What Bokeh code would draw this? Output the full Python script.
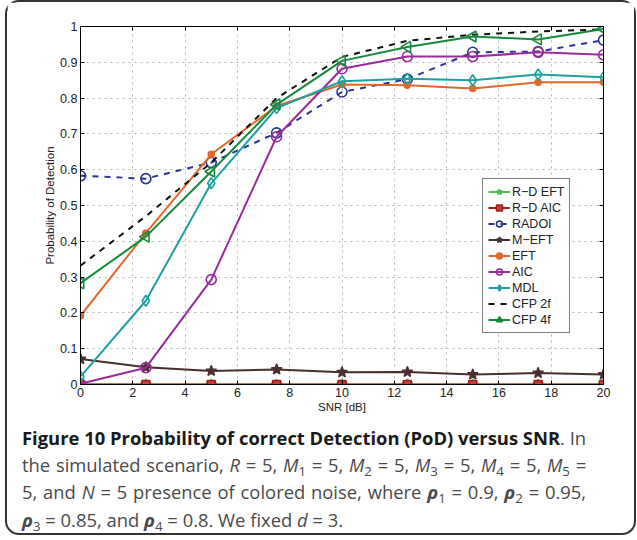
from bokeh.plotting import figure
from bokeh.models import FixedTicker, LinearAxis, Legend, LegendItem, Div, Range1d
from bokeh.layouts import column
from bokeh.embed import file_html
from bokeh.resources import INLINE
import math

# ---- data ----
snr = [0, 2.5, 5, 7.5, 10, 12.5, 15, 17.5, 20]
rd_eft = [0, 0, 0, 0, 0, 0, 0, 0, 0]
rd_aic = [0, 0, 0, 0, 0, 0, 0, 0, 0]
radoi = [0.583, 0.575, 0.620, 0.703, 0.817, 0.853, 0.928, 0.930, 0.962]
m_eft = [0.071, 0.048, 0.038, 0.042, 0.034, 0.035, 0.028, 0.032, 0.028]
eft = [0.192, 0.423, 0.643, 0.778, 0.838, 0.836, 0.827, 0.844, 0.844]
aic = [0.002, 0.047, 0.293, 0.692, 0.882, 0.916, 0.916, 0.928, 0.921]
mdl = [0.022, 0.234, 0.562, 0.772, 0.847, 0.854, 0.850, 0.866, 0.858]
cfp_2f = [0.332, 0.470, 0.620, 0.800, 0.915, 0.960, 0.977, 0.986, 0.992]
cfp_4f = [0.283, 0.413, 0.595, 0.782, 0.904, 0.943, 0.972, 0.964, 0.993]

series_names = ["R\u2212D EFT", "R\u2212D AIC", "RADOI", "M\u2212EFT", "EFT", "AIC", "MDL", "CFP 2f", "CFP 4f"]

x_ticks = [0, 2, 4, 6, 8, 10, 12, 14, 16, 18, 20]
y_ticks = [0, 0.1, 0.2, 0.3, 0.4, 0.5, 0.6, 0.7, 0.8, 0.9, 1]
y_tick_labels = ["0", "0.1", "0.2", "0.3", "0.4", "0.5", "0.6", "0.7", "0.8", "0.9", "1"]

x_label = "SNR [dB]"
y_label = "Probability of Detection"

SUB = '<sub style="font-size:72%; line-height:0; vertical-align:-0.3em;">'
RHO = '<b><i>&rho;</i></b>'
LINE_J = '<div style="text-align:justify; text-align-last:justify; white-space:nowrap;">'
LINE_L = '<div style="text-align:left; white-space:nowrap;">'
caption_lines = [
    '<b style="color:#1a1a1a">Figure 10 Probability of correct Detection (PoD) versus SNR</b>. In',
    'the simulated scenario, <i>R</i> = 5, <i>M</i>' + SUB + '1</sub> = 5, <i>M</i>' + SUB + '2</sub> = 5, '
    '<i>M</i>' + SUB + '3</sub> = 5, <i>M</i>' + SUB + '4</sub> = 5, <i>M</i>' + SUB + '5</sub> =',
    '5, and <i>N</i> = 5 presence of colored noise, where ' + RHO + SUB + '1</sub> = 0.9, '
    + RHO + SUB + '2</sub> = 0.95,',
    RHO + SUB + '3</sub> = 0.85, and ' + RHO + SUB + '4</sub> = 0.8. We fixed <i>d</i> = 3.',
]
caption_html = (
    '<div style="font-family:\'Open Sans\'; font-size:18.4px; line-height:27.2px; color:#4a4a4a;">'
    + "".join((LINE_J if i < len(caption_lines) - 1 else LINE_L) + ln + '</div>'
              for i, ln in enumerate(caption_lines))
    + '</div>'
)

FONT = "Liberation Sans"

p = figure(frame_width=523, frame_height=358, x_range=Range1d(0, 20), y_range=Range1d(0, 1),
           output_backend="svg", toolbar_location=None,
           min_border_left=73, min_border_right=31, min_border_top=24, min_border_bottom=36,
           background_fill_color="white", border_fill_color="white")
p.outline_line_color = "black"
p.outline_line_width = 1

p.xaxis.ticker = FixedTicker(ticks=x_ticks)
p.yaxis.ticker = FixedTicker(ticks=y_ticks)
p.yaxis.major_label_overrides = {t: l for t, l in zip(y_ticks, y_tick_labels)}
p.xaxis.axis_label = x_label
p.yaxis.axis_label = y_label

for ax in [p.xaxis[0], p.yaxis[0]]:
    ax.major_tick_in = 4
    ax.major_tick_out = 0
    ax.minor_tick_in = 0
    ax.minor_tick_out = 0
    ax.axis_line_color = "black"
    ax.major_tick_line_color = "black"
    ax.major_label_text_font = FONT
    ax.major_label_text_font_size = "12.5px"
    ax.major_label_text_color = "#222222"
    ax.axis_label_text_font = FONT
    ax.axis_label_text_font_size = "11.5px"
    ax.axis_label_text_font_style = "normal"
    ax.axis_label_text_color = "#222222"
    ax.major_label_standoff = 3
    ax.axis_label_standoff = 1

# mirror axes (MATLAB box ticks), no labels drawn
top = LinearAxis(ticker=FixedTicker(ticks=x_ticks), major_label_text_color=None,
                 major_label_standoff=0, major_tick_in=4, major_tick_out=0,
                 minor_tick_in=0, minor_tick_out=0, axis_line_color="black")
right = LinearAxis(ticker=FixedTicker(ticks=y_ticks), major_label_text_color=None,
                   major_label_standoff=0, major_tick_in=4, major_tick_out=0,
                   minor_tick_in=0, minor_tick_out=0, axis_line_color="black")
p.add_layout(top, "above")
p.add_layout(right, "right")

p.xgrid[0].ticker = FixedTicker(ticks=x_ticks)
p.ygrid[0].ticker = FixedTicker(ticks=y_ticks)
for g in [p.xgrid[0], p.ygrid[0]]:
    g.grid_line_color = "#b5b5b5"
    g.grid_line_dash = "dotted"
    g.grid_line_width = 1

specs = [
    # values, color, marker, size, fill, dash
    (rd_eft, "#4cbf4c", "star", 11, "#4cbf4c", "solid"),
    (rd_aic, "#a11d1d", "square", 8, "#c43c3c", "solid"),
    (radoi, "#2b3590", "circle", 10, None, "dashed"),
    (m_eft, "#4a2f2f", "star", 11, "#4a2f2f", "solid"),
    (eft, "#e0682a", "circle", 6, "#e0682a", "solid"),
    (aic, "#9b2a9b", "circle", 10, None, "solid"),
    (mdl, "#1fa0a0", "diamond", 11, None, "solid"),
    (cfp_2f, "#111111", None, 0, None, "dashed"),
    (cfp_4f, "#168a3c", "triangle", 11, None, "solid"),
]

items = []
for name, (vals, color, marker, size, fill, dash) in zip(series_names, specs):
    rs = []
    lr = p.line(snr, vals, line_color=color, line_width=2, line_dash=dash)
    rs.append(lr)
    if marker is not None:
        kw = dict(marker=marker, size=size, line_color=color, line_width=1.6)
        kw["fill_color"] = fill
        if marker == "triangle":
            kw["angle"] = math.pi / 2
        sr = p.scatter(snr, vals, **kw)
        rs.append(sr)
    items.append(LegendItem(label=name, renderers=rs))

legend = Legend(items=items, location=(402, 51))
legend.border_line_color = "black"
legend.border_line_width = 1
legend.background_fill_color = "white"
legend.background_fill_alpha = 1
legend.label_text_font = FONT
legend.label_text_font_size = "12.5px"
legend.label_text_color = "#222222"
legend.glyph_width = 22
legend.glyph_height = 15
legend.label_height = 15
legend.label_standoff = 2
legend.spacing = 1
legend.padding = 5
legend.margin = 0
p.add_layout(legend)

div = Div(text=caption_html, width=590, margin=(4, 0, 0, 15))

layout = column(p, div, styles={"border": "2px solid #333333", "border-radius": "14px",
                                 "background-color": "white", "margin-left": "5px"})

open("out.html", "w").write(file_html(layout, INLINE))
